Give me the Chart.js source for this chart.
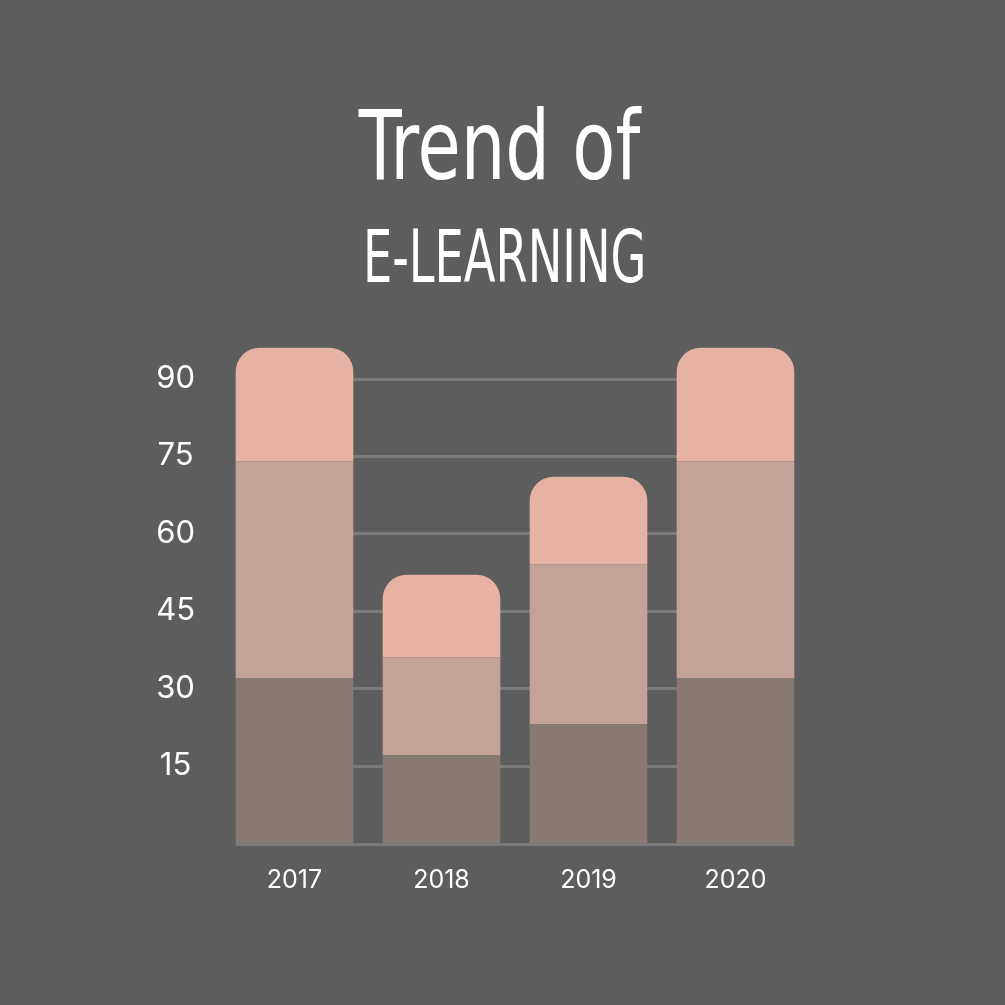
<!DOCTYPE html>
<html lang="en">
<head>
    <meta charset="UTF-8">
    <title>Trend of E-Learning</title>
    <script src="https://cdn.jsdelivr.net/npm/chart.js"></script>
    <style>
        body {
            margin: 0;
            padding: 0;
            background: #5d5d5d;
            overflow: hidden;
        }

        #wrap {
            width: 1005px;
            height: 1005px;
        }
    </style>
</head>
<body>
<div id="wrap">
    <canvas id="trendChart" width="1005" height="1005"></canvas>
</div>

<script>
    // data
    const years = ['2017', '2018', '2019', '2020'];
    const lowerPart = [32, 17, 23, 32];
    const middlePart = [42, 19, 31, 42];
    const upperPart = [22, 16, 17, 22];
    const yTickValues = [0, 15, 30, 45, 60, 75, 90];
    const titleLines = ['Trend of', 'E-LEARNING'];

    const gridColor = '#7b7b7b';
    const tickFont = '"Inter", "Open Sans", sans-serif';
    const titleFont = '"Liberation Sans Narrow", "DejaVu Sans Condensed", sans-serif';

    // where each title line has to sit: [left, right, top, baseline]
    const titleBoxes = [
        [358, 642, 105, 178.5],
        [367, 643, 227, 282]
    ];

    // title drawn straight onto the canvas, squeezed to the box
    const titlePlugin = {
        id: 'bigTitle',
        afterDraw(chart) {
            const c = chart.ctx;
            c.save();
            c.fillStyle = '#ffffff';
            c.textBaseline = 'alphabetic';
            c.textAlign = 'left';
            titleLines.forEach((text, i) => {
                const [left, right, top, base] = titleBoxes[i];
                c.font = '100px ' + titleFont;
                const m = c.measureText(text);
                const w = m.actualBoundingBoxLeft + m.actualBoundingBoxRight;
                const h = m.actualBoundingBoxAscent;
                const sx = (right - left) / w;
                const sy = (base - top) / h;
                c.save();
                c.translate(left, base);
                c.scale(sx, sy);
                c.fillText(text, m.actualBoundingBoxLeft, 0);
                c.restore();
            });
            c.restore();
        }
    };

    // horizontal grid only from the first bar's left edge to the last bar's right edge
    const gridPlugin = {
        id: 'barGrid',
        beforeDatasetsDraw(chart) {
            const bars = chart.getDatasetMeta(0).data;
            if (!bars.length) return;
            const first = bars[0];
            const last = bars[bars.length - 1];
            const x0 = first.x - first.width / 2;
            const x1 = last.x + last.width / 2;
            const y = chart.scales.y;
            const c = chart.ctx;
            c.save();
            c.strokeStyle = gridColor;
            c.lineWidth = 3;
            yTickValues.forEach(v => {
                let py = Math.round(y.getPixelForValue(v)) + 0.5;
                if (v === 0) py += 1;
                c.beginPath();
                c.moveTo(x0, py);
                c.lineTo(x1, py);
                c.stroke();
            });
            c.restore();
        }
    };

    const ctx = document.getElementById('trendChart').getContext('2d');

    new Chart(ctx, {
        type: 'bar',
        data: {
            labels: years,
            datasets: [
                {
                    label: 'lower',
                    data: lowerPart,
                    backgroundColor: '#887972',
                    borderRadius: 0
                },
                {
                    label: 'middle',
                    data: middlePart,
                    backgroundColor: '#c4a298',
                    borderRadius: 0
                },
                {
                    label: 'upper',
                    data: upperPart,
                    backgroundColor: '#e6b2a3',
                    borderRadius: { topLeft: 24, topRight: 24, bottomLeft: 0, bottomRight: 0 },
                    borderSkipped: 'start'
                }
            ]
        },
        options: {
            responsive: false,
            animation: false,
            devicePixelRatio: 1,
            layout: {
                padding: { top: 327, left: 140, right: 196, bottom: 82 }
            },
            barPercentage: 0.8,
            categoryPercentage: 1.0,
            plugins: {
                legend: { display: false },
                tooltip: { enabled: false },
                title: { display: false }
            },
            scales: {
                x: {
                    stacked: true,
                    grid: { display: false, drawTicks: false },
                    border: { display: false },
                    ticks: {
                        color: '#ffffff',
                        padding: 22,
                        font: { family: tickFont, size: 25 }
                    },
                    afterFit(scale) {
                        scale.height = 80;
                    }
                },
                y: {
                    stacked: true,
                    min: 0,
                    max: 100,
                    grid: { display: false, drawTicks: false },
                    border: { display: false },
                    afterBuildTicks(scale) {
                        scale.ticks = yTickValues.map(v => ({ value: v }));
                    },
                    ticks: {
                        color: '#ffffff',
                        padding: 26,
                        crossAlign: 'center',
                        font: { family: tickFont, size: 31 },
                        callback: v => (v === 0 ? '' : String(v))
                    },
                    afterFit(scale) {
                        scale.width = 81;
                    }
                }
            }
        },
        plugins: [gridPlugin, titlePlugin]
    });
</script>
</body>
</html>
